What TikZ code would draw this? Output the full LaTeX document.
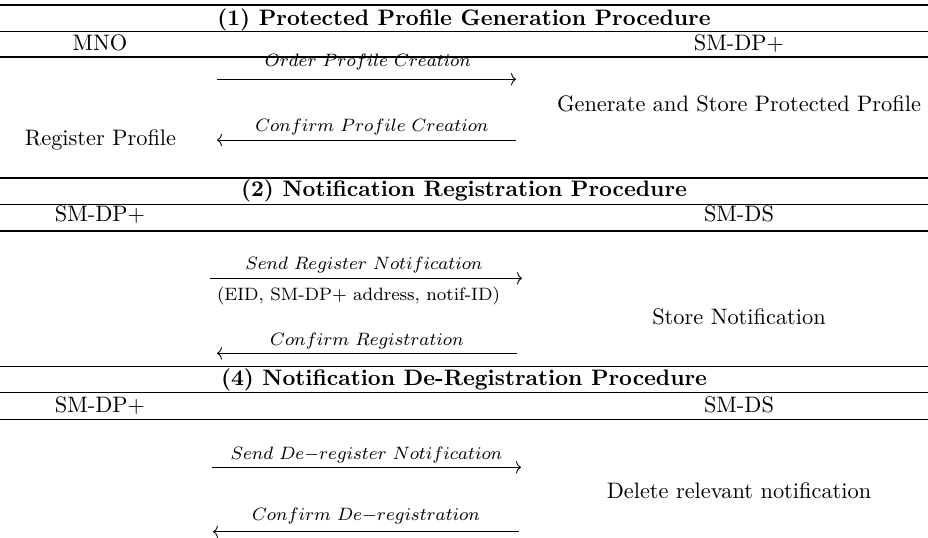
\documentclass[tikz,border=0pt]{standalone}
\usepackage{tikz}
\usetikzlibrary{positioning,arrows.meta}
\tikzset{
  seqtitle/.style={font=\bfseries, anchor=base, inner sep=0pt},
  seqtext/.style={anchor=base, inner sep=0pt},
  seqlabel/.style={font=\fontsize{7.7}{9}\selectfont, anchor=base, inner sep=0pt},
  seqargs/.style={font=\footnotesize, anchor=base, inner sep=0pt},
  seqrule/.style={line width=0.5pt},
  seqarrow/.style={-{To[length=2.2pt, width=5.5pt]}, line width=0.4pt},
}

\begin{document}
\begin{tikzpicture}[x=0.447pt, y=-0.447pt]
  \useasboundingbox (0,0) rectangle (928,537);

  % Table rules
  \foreach \y in {5,31.7,57,178,204.3,231,366.7,392.7,419.3}
    \draw[seqrule] (0,\y) -- (928,\y);

  % Section titles
  \node[seqtitle] (title1) at (464,25) {(1) Protected Profile Generation Procedure};
  \node[seqtitle] (title2) at (464,196.7) {(2) Notification Registration Procedure};
  \node[seqtitle] (title4) at (464,385) {(4) Notification De-Registration Procedure};

  % Actors
  \node[seqtext] (mno) at (100,50) {MNO};
  \node[seqtext] (dpA) at (739,50) {SM-DP+};
  \node[seqtext] (dpB) at (100,221) {SM-DP+};
  \node[seqtext] (dsB) at (739,221) {SM-DS};
  \node[seqtext] (dpC) at (100,412.7) {SM-DP+};
  \node[seqtext] (dsC) at (739,412.7) {SM-DS};

  % Local actions
  \node[seqtext] (register) at (100.5,145.7) {Register Profile};
  \node[seqtext] (generate) at (739,111.7) {Generate and Store Protected Profile};
  \node[seqtext] (store) at (739,324) {Store Notification};
  \node[seqtext] (delete) at (739,498.3) {Delete relevant notification};

  % Message ends
  \coordinate (ord-l) at (217,79.3);   \coordinate (ord-r) at (516,79.3);
  \coordinate (cpc-l) at (217,140);    \coordinate (cpc-r) at (516,140);
  \coordinate (srn-l) at (210,278.3);  \coordinate (srn-r) at (522,278.3);
  \coordinate (crg-l) at (217,353.3);  \coordinate (crg-r) at (517,353.3);
  \coordinate (sdn-l) at (212,467.3);  \coordinate (sdn-r) at (521,467.3);
  \coordinate (cdr-l) at (213,531.7);  \coordinate (cdr-r) at (519,531.7);

  % Messages
  \draw[seqarrow] (ord-l) -- (ord-r);
  \draw[seqarrow] (cpc-r) -- (cpc-l);
  \draw[seqarrow] (srn-l) -- (srn-r);
  \draw[seqarrow] (crg-r) -- (crg-l);
  \draw[seqarrow] (sdn-l) -- (sdn-r);
  \draw[seqarrow] (cdr-r) -- (cdr-l);

  % Message labels
  \node[seqlabel] (ordlbl) at (368,66.7) {$Order\ Profile\ Creation$};
  \node[seqlabel] (cpclbl) at (372,131.7) {$Confirm\ Profile\ Creation$};
  \node[seqlabel] (srnlbl) at (364,269.3) {$Send\ Register\ Notification$};
  \node[seqargs] (srnarg) at (358.5,300) {(EID, SM-DP+ address, notif-ID)};
  \node[seqlabel] (crglbl) at (367,345) {$Confirm\ Registration$};
  \node[seqlabel] (sdnlbl) at (366.5,459.3) {$Send\ De{-}register\ Notification$};
  \node[seqlabel] (cdrlbl) at (366,520) {$Confirm\ De{-}registration$};
\end{tikzpicture}
\end{document}
